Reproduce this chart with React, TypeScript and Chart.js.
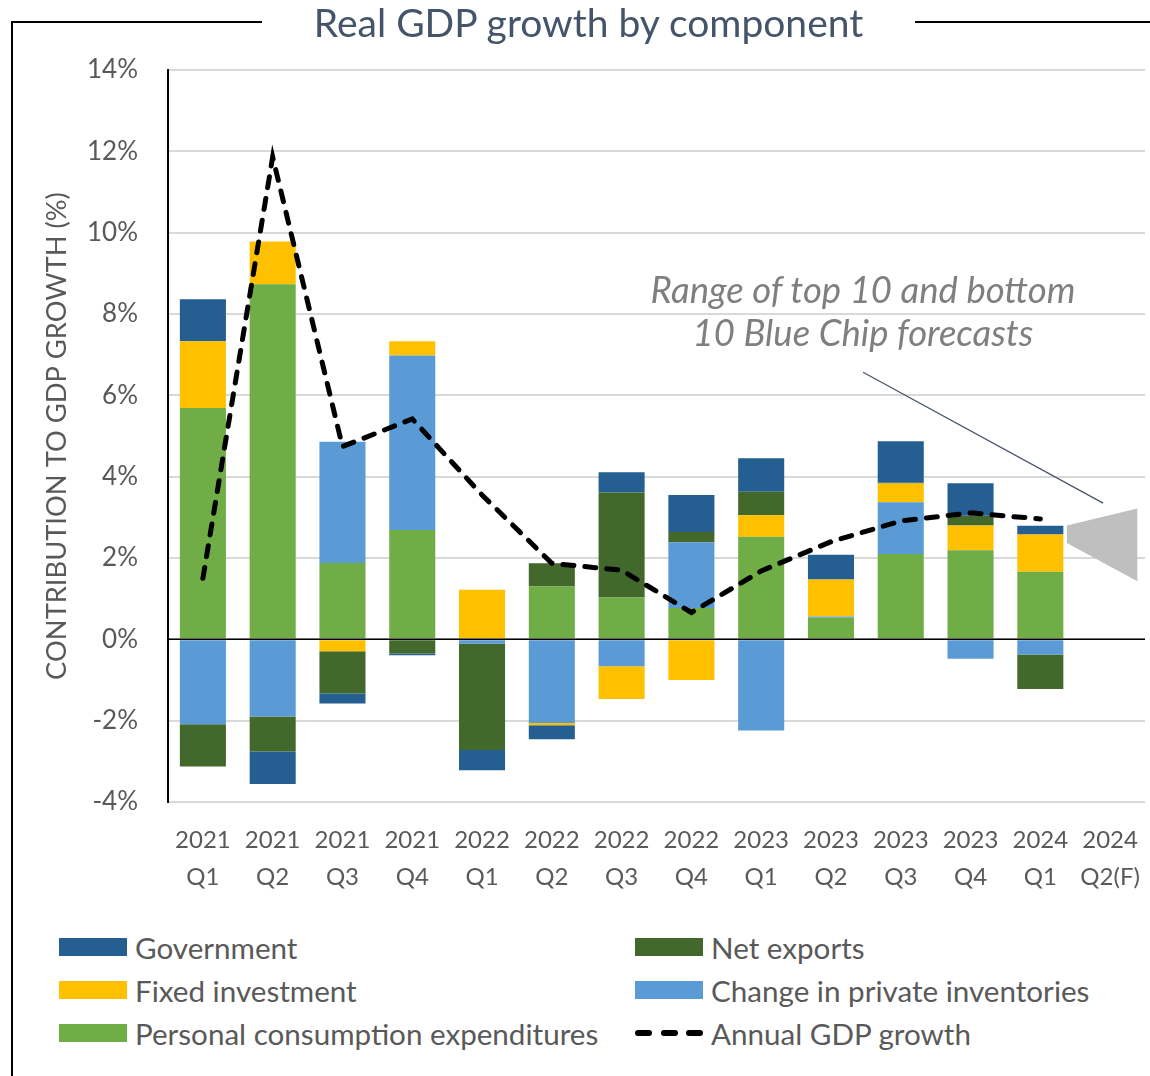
import React, { useEffect, useRef } from "react";
import { Chart, registerables } from "chart.js";

Chart.register(...registerables);

const FONT = "Lato, 'Open Sans', sans-serif";
const TEXT_GREY = "#595959";

const categories: string[][] = [
  ["2021", "Q1"], ["2021", "Q2"], ["2021", "Q3"], ["2021", "Q4"],
  ["2022", "Q1"], ["2022", "Q2"], ["2022", "Q3"], ["2022", "Q4"],
  ["2023", "Q1"], ["2023", "Q2"], ["2023", "Q3"], ["2023", "Q4"],
  ["2024", "Q1"], ["2024", "Q2(F)"],
];

const personalConsumption = [5.69, 8.73, 1.88, 2.69, 0, 1.30, 1.03, 0.77, 2.52, 0.53, 2.10, 2.19, 1.66, null];
const privateInventories = [-2.09, -1.90, 2.98, 4.29, -0.11, -2.06, -0.66, 1.62, -2.24, 0.03, 1.27, -0.48, -0.37, null];
const fixedInvestment = [1.64, 1.05, -0.29, 0.35, 1.22, -0.05, -0.81, -1.00, 0.53, 0.91, 0.46, 0.61, 0.92, null];
const netExports = [-1.04, -0.86, -1.04, -0.35, -2.61, 0.57, 2.58, 0.25, 0.58, 0, 0.02, 0.24, -0.85, null];
const government = [1.03, -0.80, -0.25, -0.04, -0.50, -0.35, 0.50, 0.91, 0.82, 0.61, 1.02, 0.80, 0.21, null];
const annualGdpGrowth = [1.5, 11.86, 4.74, 5.42, 3.55, 1.87, 1.7, 0.66, 1.68, 2.40, 2.91, 3.11, 2.96, null];

// Blue Chip forecast range for 2024 Q2(F): [start, end] of the fan
const forecastHigh = [2.80, 3.22];
const forecastLow = [2.37, 1.43];

const yTicks = [-4, -2, 0, 2, 4, 6, 8, 10, 12, 14];

const COLORS = {
  government: "#255e91",
  netExports: "#43682b",
  fixedInvestment: "#ffc000",
  inventories: "#5b9bd5",
  pce: "#70ad47",
};

const overlayPlugin = {
  id: "overlay",
  afterDatasetsDraw(chart: any) {
    const { ctx, scales, chartArea } = chart;
    const x = scales.x;
    const y = scales.y;
    const step = x.width / categories.length;
    ctx.save();
    // zero line
    ctx.strokeStyle = "#000";
    ctx.lineWidth = 1.5;
    ctx.beginPath();
    const y0 = y.getPixelForValue(0);
    ctx.moveTo(chartArea.left, y0);
    ctx.lineTo(chartArea.right, y0);
    ctx.stroke();
    // forecast fan
    const cx = x.getPixelForValue(13);
    const xl = cx - step * 0.62;
    const xr = cx + step * 0.39;
    ctx.fillStyle = "#bfbfbf";
    ctx.beginPath();
    ctx.moveTo(xl, y.getPixelForValue(forecastHigh[0]));
    ctx.lineTo(xr, y.getPixelForValue(forecastHigh[1]));
    ctx.lineTo(xr, y.getPixelForValue(forecastLow[1]));
    ctx.lineTo(xl, y.getPixelForValue(forecastLow[0]));
    ctx.closePath();
    ctx.fill();
    // pointer line
    ctx.strokeStyle = "#44546a";
    ctx.lineWidth = 1.2;
    ctx.beginPath();
    ctx.moveTo(x.getPixelForValue(9) + step * 0.46, y.getPixelForValue(6.57));
    ctx.lineTo(x.getPixelForValue(12) + step * 0.9, y.getPixelForValue(3.35));
    ctx.stroke();
    ctx.restore();
  },
};

function ChartCanvas() {
  const ref = useRef<HTMLCanvasElement | null>(null);
  useEffect(() => {
    if (!ref.current) return;
    const barDs = (label: string, data: (number | null)[], color: string) => ({
      type: "bar" as const,
      label,
      data,
      backgroundColor: color,
      borderWidth: 0,
      categoryPercentage: 1,
      barPercentage: 0.66,
      order: 1,
    });
    const chart = new Chart(ref.current, {
      type: "bar",
      data: {
        labels: categories,
        datasets: [
          barDs("Personal consumption expenditures", personalConsumption, COLORS.pce),
          barDs("Change in private inventories", privateInventories, COLORS.inventories),
          barDs("Fixed investment", fixedInvestment, COLORS.fixedInvestment),
          barDs("Net exports", netExports, COLORS.netExports),
          barDs("Government", government, COLORS.government),
          {
            type: "line" as const,
            label: "Annual GDP growth",
            data: annualGdpGrowth,
            borderColor: "#000",
            borderWidth: 5,
            borderDash: [11, 11],
            borderCapStyle: "round",
            pointRadius: 0,
            tension: 0,
            fill: false,
            order: 0,
          } as any,
        ],
      },
      options: {
        animation: false,
        responsive: false,
        maintainAspectRatio: false,
        layout: { padding: { left: 0, top: 70, right: 5, bottom: 0 } },
        plugins: { legend: { display: false }, tooltip: { enabled: false }, title: { display: false } },
        scales: {
          x: {
            stacked: true,
            grid: { display: false },
            border: { display: false },
            ticks: {
              color: TEXT_GREY,
              font: { family: FONT, size: 24, lineHeight: 37 / 24 },
              padding: 12,
              maxRotation: 0,
              autoSkip: false,
            },
            afterFit: (s: any) => {
              s.height = 98;
              s.paddingLeft = 0;
              s.paddingRight = 0;
            },
          },
          y: {
            stacked: true,
            min: yTicks[0],
            max: yTicks[yTicks.length - 1],
            afterBuildTicks: (s: any) => { s.ticks = yTicks.map((v) => ({ value: v })); },
            ticks: {
              color: TEXT_GREY,
              font: { family: FONT, size: 26 },
              padding: 30,
              callback: (v: any) => `${v}%`,
            },
            grid: { color: "#d9d9d9", lineWidth: 2, drawTicks: false },
            border: { display: true, color: "#000", width: 2 },
            title: {
              display: true,
              text: "CONTRIBUTION TO GDP GROWTH (%)",
              color: TEXT_GREY,
              font: { family: FONT, size: 27.3 },
              padding: { top: 41, bottom: 0 },
            },
            afterFit: (s: any) => { s.width = 168; },
          },
        },
      },
      plugins: [overlayPlugin],
    });
    return () => chart.destroy();
  }, []);
  return <canvas ref={ref} width={1150} height={900} style={{ position: "absolute", left: 0, top: 0, width: 1150, height: 900 }} />;
}

const legendItems = [
  { label: "Government", color: COLORS.government, col: 0, row: 0 },
  { label: "Net exports", color: COLORS.netExports, col: 1, row: 0 },
  { label: "Fixed investment", color: COLORS.fixedInvestment, col: 0, row: 1 },
  { label: "Change in private inventories", color: COLORS.inventories, col: 1, row: 1 },
  { label: "Personal consumption expenditures", color: COLORS.pce, col: 0, row: 2 },
  { label: "Annual GDP growth", color: "", col: 1, row: 2 },
];

export default function App() {
  const colX = [59, 635];
  const rowY = [947, 990, 1033];
  return (
    <div style={{ position: "absolute", left: 0, top: 0, width: 1150, height: 1076, background: "#fff", overflow: "hidden", fontFamily: FONT }}>
      <ChartCanvas />
      {/* title and frame */}
      <div style={{ position: "absolute", left: 12, top: 21, width: 250, height: 2, background: "#000" }} />
      <div style={{ position: "absolute", left: 915, top: 21, width: 235, height: 2, background: "#000" }} />
      <div style={{ position: "absolute", left: 11, top: 21, width: 2, height: 1055, background: "#000" }} />
      <div style={{ position: "absolute", left: 262, width: 653, top: 0, height: 44, lineHeight: "44px", textAlign: "center", color: "#44546a", fontSize: 39 }}>
        Real GDP growth by component
      </div>
      {/* annotation */}
      <div style={{ position: "absolute", left: 580, width: 566, top: 268, lineHeight: "43px", textAlign: "center", color: "#7f7f7f", fontSize: 36.5, fontStyle: "italic", whiteSpace: "nowrap" }}>
        Range of top 10 and bottom<br />10 Blue Chip forecasts
      </div>
      {/* legend */}
      {legendItems.map((it) => (
        <div key={it.label} style={{ position: "absolute", left: colX[it.col], top: rowY[it.row] - 20, height: 40, display: "flex", alignItems: "center", whiteSpace: "nowrap" }}>
          {it.color ? (
            <span style={{ display: "inline-block", width: 68, height: 18, background: it.color }} />
          ) : (
            <span style={{ display: "inline-flex", width: 68, height: 18, alignItems: "center", justifyContent: "space-between" }}>
              {[0, 1, 2].map((i) => (
                <span key={i} style={{ display: "inline-block", width: 17, height: 6, borderRadius: 3, background: "#000" }} />
              ))}
            </span>
          )}
          <span style={{ marginLeft: 8, fontSize: 29.6, color: TEXT_GREY }}>{it.label}</span>
        </div>
      ))}
    </div>
  );
}
